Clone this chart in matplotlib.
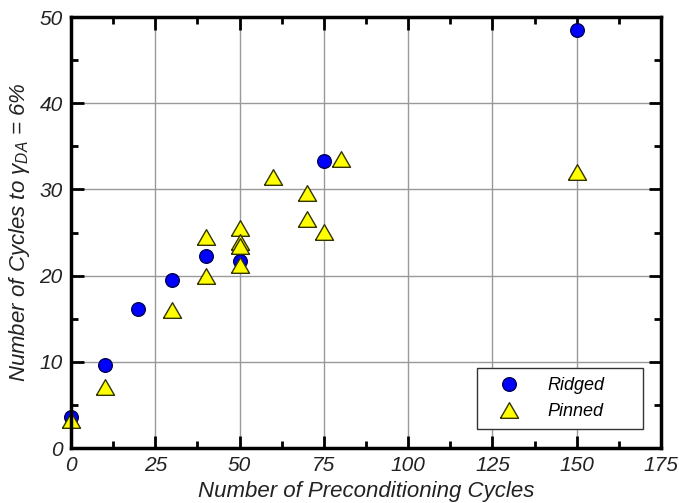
import numpy as np
import matplotlib.pyplot as plt
from matplotlib.ticker import MultipleLocator

plt.rcParams['font.family'] = 'Liberation Sans'
plt.rcParams['font.style'] = 'italic'
plt.rcParams['mathtext.fontset'] = 'custom'
plt.rcParams['mathtext.rm'] = 'Liberation Sans:italic'
plt.rcParams['mathtext.it'] = 'Liberation Sans:italic'

ridgedX = [0, 10, 20, 30, 40, 50, 75, 150]
ridgedY = [3.6, 9.6, 16.1, 19.5, 22.3, 21.7, 33.3, 48.5]

pinnedX = [0, 10, 30, 40, 40, 50, 50, 50, 50, 60, 70, 70, 75, 80, 150]
pinnedY = [3.3, 7.1, 16.0, 24.5, 20.0, 25.5, 23.9, 23.4, 21.2, 31.4, 29.6, 26.6, 25.1, 33.5, 32.0]

# equilateral triangle, centred on its bounding box
tri = [(-1, -0.866), (1, -0.866), (0, 0.866), (-1, -0.866)]

fig = plt.figure(figsize=(6.79, 5.03), dpi=100)
ax1 = fig.add_axes([71 / 679, 55 / 503, 590 / 679, 431 / 503])

ax1.plot(ridgedX, ridgedY, 'o', ms=9.8, mfc='#0000ff', mec='#000055', mew=1.0,
         label='Ridged', zorder=3, clip_on=False)
ax1.plot(pinnedX, pinnedY, marker=tri, ls='none', ms=13, mfc='#ffff00', mec='#333300',
         mew=1.0, label='Pinned', zorder=4, clip_on=False)

ax1.set_xlim(0, 175)
ax1.set_ylim(0, 50)
ax1.xaxis.set_major_locator(MultipleLocator(25))
ax1.xaxis.set_minor_locator(MultipleLocator(12.5))
ax1.yaxis.set_major_locator(MultipleLocator(10))
ax1.yaxis.set_minor_locator(MultipleLocator(5))
ax1.grid(True, which='major', color='#999999', lw=1.0, zorder=0)
ax1.set_axisbelow(True)

ax1.tick_params(which='both', direction='in', top=True, right=True, width=2.0,
                labelsize=15, pad=6, colors='black')
ax1.tick_params(which='major', length=9)
ax1.tick_params(which='minor', length=5)
for tl in ax1.get_xticklabels() + ax1.get_yticklabels():
    tl.set_color('#222222')
for s in ax1.spines.values():
    s.set_linewidth(2.5)
    s.set_zorder(5)

ax1.set_xlabel('Number of Preconditioning Cycles', fontsize=16, labelpad=4, color='#222222')
ax1.set_ylabel(r'Number of Cycles to $\gamma_{DA}$ = 6%', fontsize=16, labelpad=5,
               color='#222222')

leg = ax1.legend(loc='lower left', bbox_to_anchor=(0.688, 0.044, 0.281, 0.14), mode='expand',
                 fontsize=13, fancybox=False, edgecolor='#333333', framealpha=1,
                 borderpad=0.5, handletextpad=0.85, handlelength=2.55, labelspacing=0.5,
                 borderaxespad=0)
leg.get_frame().set_linewidth(1.0)

fig.savefig('out.png', dpi=100)
